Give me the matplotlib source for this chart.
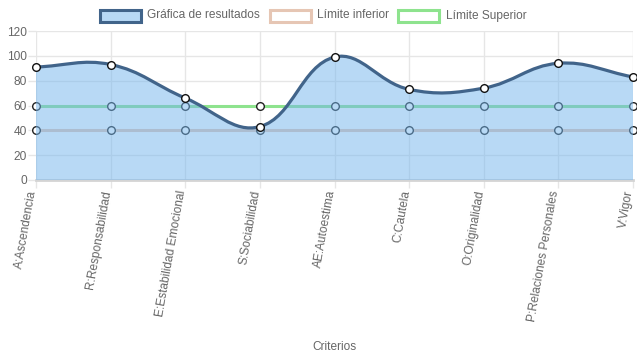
import matplotlib
matplotlib.use('Agg')
import matplotlib.pyplot as plt
import matplotlib.patches as mpatches
import matplotlib.transforms as mtransforms
from matplotlib.path import Path
import numpy as np

plt.rcParams['font.family'] = ['Liberation Sans', 'DejaVu Sans']

W, H, DPI = 637, 359, 100

categorias = ['A:Ascendencia', 'R:Responsabilidad', 'E:Estabilidad Emocional',
              'S:Sociabilidad', 'AE:Autoestima', 'C:Cautela', 'O:Originalidad',
              'P:Relaciones Personales', 'V:Vigor']
resultados = [91, 93, 66, 43, 99, 73, 74, 94, 83]
limite_inferior = [40] * 9
limite_superior = [60] * 9

C_MAIN = '#41648a'
C_FILL = (0.45, 0.71, 0.93, 0.5)
C_INF = '#e6c6b4'
C_SUP = '#8ee38e'
C_GRID = '#e6e6e6'
C_TEXT = '#666666'
TENSION = 0.4
FS = 8.6


def px(x, y):
    return x / W, 1 - y / H


def spline_path(ax, xs, ys):
    # curva tipo Chart.js (tension 0.4) calculada en pixeles
    pts = ax.transData.transform(np.column_stack([xs, ys]))
    inv = ax.transData.inverted()
    n = len(pts)
    cps = []
    for i in range(n):
        prev = pts[max(i - 1, 0)]
        cur = pts[i]
        nxt = pts[min(i + 1, n - 1)]
        d01 = np.hypot(*(cur - prev))
        d12 = np.hypot(*(nxt - cur))
        tot = d01 + d12
        s01 = d01 / tot if tot else 0
        s12 = d12 / tot if tot else 0
        cps.append((cur - TENSION * s01 * (nxt - prev), cur + TENSION * s12 * (nxt - prev)))
    verts = [pts[0]]
    codes = [Path.MOVETO]
    for i in range(n - 1):
        verts += [cps[i][1], cps[i + 1][0], pts[i + 1]]
        codes += [Path.CURVE4] * 3
    verts = inv.transform(np.array(verts))
    return verts, codes


fig = plt.figure(figsize=(W / DPI, H / DPI), dpi=DPI)
l, b = px(36, 180)
ax = fig.add_axes([l, b, 597 / W, 149 / H])
x = np.arange(len(categorias))
ax.set_xlim(0, len(categorias) - 1)
ax.set_ylim(0, 120)

ax.set_yticks(range(0, 121, 20))
ax.set_xticks(x)
ax.set_xticklabels([])
ax.tick_params(axis='both', colors=C_GRID, length=5.5, width=1, labelcolor=C_TEXT, labelsize=FS)
ax.tick_params(axis='y', pad=1)
ax.grid(True, color=C_GRID, lw=1, zorder=0)
ax.set_axisbelow(True)
for s in ['top', 'right', 'left']:
    ax.spines[s].set_visible(False)
ax.spines['bottom'].set_color('#d4d4d4')
ax.spines['bottom'].set_linewidth(2)

# etiquetas del eje x giradas, un poco a la izquierda del tick
off = mtransforms.ScaledTranslation(-3 / DPI, -10.5 / DPI, fig.dpi_scale_trans)
for i, cat in enumerate(categorias):
    ax.text(x[i], 0, cat, transform=ax.get_xaxis_transform() + off,
            rotation=80, rotation_mode='anchor', ha='right', va='center',
            fontsize=FS, color=C_TEXT)

# limites (quedan debajo del relleno)
ax.plot(x, limite_inferior, color=C_INF, lw=2.2, zorder=2,
        marker='o', ms=5.5, mfc='white', mec='#222222', mew=1, clip_on=False)
ax.plot(x, limite_superior, color=C_SUP, lw=2.2, zorder=2,
        marker='o', ms=5.5, mfc='white', mec='#222222', mew=1, clip_on=False)

verts, codes = spline_path(ax, x, resultados)
fill_verts = np.vstack([verts, [[x[-1], 0], [x[0], 0], verts[0]]])
fill_codes = codes + [Path.LINETO, Path.LINETO, Path.CLOSEPOLY]
ax.add_patch(mpatches.PathPatch(Path(fill_verts, fill_codes), facecolor=C_FILL,
                                edgecolor='none', zorder=4))
ax.add_patch(mpatches.PathPatch(Path(verts, codes), facecolor='none',
                                edgecolor=C_MAIN, lw=2.3, zorder=5, capstyle='round'))
ax.plot(x, resultados, ls='none', marker='o', ms=5.5, mfc='white', mec='#111111',
        mew=1, zorder=6, clip_on=False)

fig.text(*px(334, 347), 'Criterios', ha='center', va='center', fontsize=FS, color=C_TEXT)

# leyenda
leyenda = [('Gráfica de resultados', (0.72, 0.85, 0.96), C_MAIN, 100, 147),
           ('Límite inferior', 'white', C_INF, 270, 317),
           ('Límite Superior', 'white', C_SUP, 398, 446)]
for txt, fc, ec, bx, tx in leyenda:
    x0, y0 = px(bx, 22)
    fig.add_artist(mpatches.Rectangle((x0, y0), 41 / W, 12 / H, transform=fig.transFigure,
                                      facecolor=fc, edgecolor=ec, lw=2.2))
    fig.text(*px(tx, 15.5), txt, ha='left', va='center', fontsize=FS, color=C_TEXT)

fig.savefig('out.png', dpi=DPI)
